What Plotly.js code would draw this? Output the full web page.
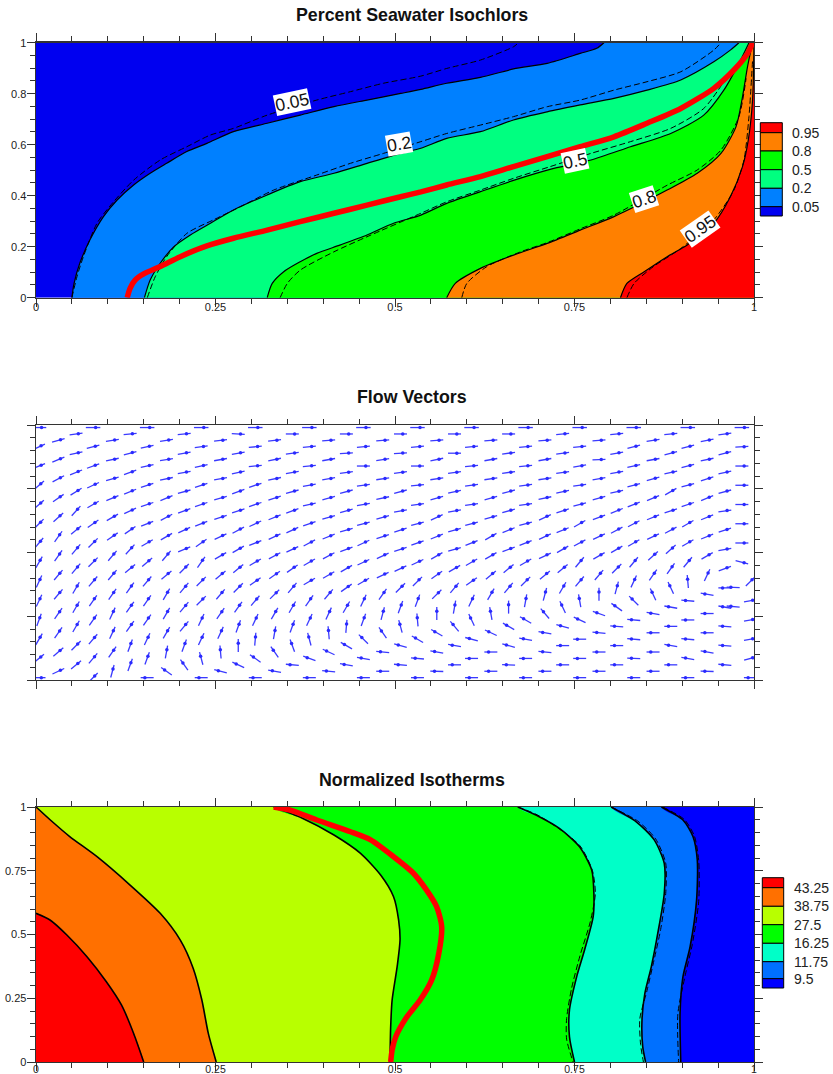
<!DOCTYPE html>
<html><head><meta charset="utf-8">
<script src="https://cdn.plot.ly/plotly-3.0.1.min.js"></script>
<style>html,body{margin:0;padding:0;background:#fff}</style></head>
<body><div id="chart"></div>
<script>
// ---------- Percent Seawater Isochlors (x,y) ----------
const iso05x=[.050,.053,.061,.075,.094,.113,.136,.159,.182,.210,.238,.275,.322,.368,.415,.461,.508,.536,.572,.619,.665,.712,.758,.781,.791];
const iso05y=[0,.056,.135,.226,.318,.383,.442,.488,.527,.573,.605,.651,.684,.716,.749,.775,.801,.817,.841,.864,.897,.919,.958,.978,1];
const iso05dx=[.050,.057,.066,.085,.108,.136,.173,.210,.243,.275,.322,.391,.438,.484,.536,.572,.619,.665,.672];
const iso05dy=[0,.082,.161,.292,.376,.461,.540,.592,.638,.664,.716,.775,.808,.841,.869,.899,.932,.984,1];
const iso20x=[.151,.159,.173,.192,.215,.243,.275,.322,.368,.415,.461,.508,.536,.572,.619,.665,.712,.758,.805,.851,.898,.944,.967,.979];
const iso20y=[0,.069,.135,.2,.246,.292,.344,.403,.455,.488,.527,.566,.586,.625,.651,.697,.729,.756,.782,.814,.854,.925,.971,1];
const iso20dx=[.155,.166,.182,.210,.247,.285,.331,.391,.438,.484,.536,.572,.619,.665,.712,.758,.805,.851,.898,.944,.954];
const iso20dy=[0,.082,.161,.252,.305,.357,.422,.481,.527,.566,.612,.644,.677,.710,.749,.775,.814,.847,.886,.971,1];
const iso50x=[.322,.329,.345,.368,.391,.424,.461,.498,.536,.572,.619,.665,.716,.773,.828,.884,.930,.958,.979,.993];
const iso50y=[0,.056,.102,.141,.174,.207,.246,.292,.324,.370,.416,.460,.503,.540,.592,.644,.716,.814,.919,1];
const iso50dx=[.340,.350,.368,.415,.461,.536,.572,.619,.665,.716,.773,.828,.884,.930,.958];
const iso50dy=[0,.056,.108,.180,.239,.331,.376,.422,.468,.514,.566,.612,.664,.742,.847];
const iso80x=[.572,.584,.619,.665,.712,.758,.805,.879,.921,.954,.975,.984,.991,.998];
const iso80y=[0,.056,.115,.167,.213,.265,.318,.422,.488,.566,.671,.788,.906,1];
const iso80dx=[.593,.600,.628,.675,.712,.758,.805,.879,.921,.954,.979,.989];
const iso80dy=[0,.056,.122,.180,.216,.270,.324,.441,.501,.579,.710,.860];
const iso95x=[.814,.823,.847,.879,.907,.944,.967,.984,.992,.998,1];
const iso95y=[0,.056,.102,.161,.207,.292,.396,.514,.618,.775,1];
const iso95dx=[.823,.833,.860,.898,.944,.972,.986,.993,.998];
const iso95dy=[0,.056,.122,.193,.305,.422,.540,.710,.930];
const redIsoX=[.127,.131,.138,.150,.173,.201,.238,.275,.322,.368,.415,.461,.508,.536,.572,.619,.665,.712,.758,.805,.851,.898,.944,.972,.991,.998];
const redIsoY=[0,.037,.069,.093,.122,.161,.203,.233,.265,.298,.331,.363,.396,.415,.442,.475,.514,.553,.592,.631,.684,.742,.821,.893,.958,1];
const isoLabels=["0.05","0.2","0.5","0.8","0.95"];
const isoLabelX=[.357,.505,.750,.847,.925];
const isoLabelY=[.769,.604,.536,.387,.270];
const isoLabelAngle=[-12,-10,-12,-18,-35];
const isoColors=["#0000f0","#0080ff","#00ff80","#00ff00","#ff8000","#ff0000"];
const isoLegend=["0.95","0.8","0.5","0.2","0.05"];

// ---------- Flow Vectors: direction (degrees) of every arrow, row by row from the top ----------
const vectorAngles=[
[0,0,0,0,0,0,0,0,0,0,0,0,0,0],
[8,5,5,-3,0,0,0,0,0,5,5,5,8],
[15,8,8,6,6,5,5,5,5,5,5,8,12],
[25,15,12,8,5,5,5,5,5,5,5,15,15,3],
[12,15,10,10,8,3,3,0,8,8,10,15,15],
[22,12,8,10,12,10,8,12,10,10,3,10,12],
[22,20,12,12,5,5,0,0,5,5,10,12,15,0],
[22,20,10,12,10,8,8,8,8,8,10,12,12],
[28,15,12,10,12,10,8,8,8,8,10,15,17],
[40,25,18,18,18,10,8,5,8,8,8,15,15,0],
[32,22,15,20,15,15,15,12,15,12,12,30,15],
[35,22,22,15,18,15,12,15,15,12,15,22,22],
[42,30,18,18,18,12,10,8,8,8,15,22,18,0],
[48,25,20,18,20,15,10,10,15,18,22,18,8],
[42,30,28,18,22,15,15,25,15,25,20,22,22],
[45,35,22,22,25,18,15,15,15,15,30,28,30,0],
[40,35,25,28,25,15,18,15,22,22,28,28,18],
[55,35,30,25,25,22,18,22,30,25,25,25,22],
[50,45,30,35,22,28,25,20,22,22,28,30,30,0],
[50,48,22,30,25,20,18,15,20,30,30,42,10],
[55,50,50,30,28,28,25,30,30,25,30,42,30],
[60,45,40,55,30,30,25,25,30,30,50,50,50,-15],
[50,40,45,40,35,30,25,30,40,40,45,55,20],
[50,50,40,40,35,30,25,35,40,40,50,55,65],
[65,50,50,45,35,30,30,45,35,45,50,65,95,45],
[60,55,50,45,50,35,45,50,50,60,75,115,180],
[50,55,60,50,45,50,55,45,60,75,90,115,170],
[65,55,55,45,50,55,65,70,65,80,100,135,175,10],
[60,55,50,55,60,60,70,80,90,115,145,170,170],
[55,65,60,55,60,65,75,90,100,130,160,170,180],
[70,55,55,65,65,65,70,95,115,150,155,175,180,10],
[60,55,50,70,70,85,105,130,150,165,175,180,175],
[55,65,60,65,80,95,125,150,155,170,175,180,180],
[60,50,65,65,85,105,135,150,165,170,180,175,175,10],
[45,70,70,90,110,150,165,170,165,180,180,170,175],
[40,55,80,95,125,155,175,170,180,175,180,180,170],
[40,50,70,105,145,160,170,175,180,180,180,178,170,15],
[40,70,125,155,175,170,175,180,178,180,180,180,175],
[25,75,145,165,170,175,180,178,180,180,180,180,178],
[0,45,180,180,180,180,180,180,180,180,180,180,180,180]
];
const extraVectorX=[.971,.971];
const extraVectorY=[.363,.288];
const extraVectorAngle=[178,175];

// ---------- Normalized Isotherms ----------
const thA_x=[0,.0195,.043,.071,.098,.119,.136,.150];
const thA_y=[.583,.557,.498,.413,.315,.224,.112,0];
const thB_x=[0,.02,.047,.085,.131,.173,.201,.219,.231,.240,.251];
const thB_y=[1,.949,.884,.805,.694,.583,.478,.367,.243,.112,0];
const thC_x=[.331,.371,.415,.452,.480,.498,.505,.507,.503,.496,.494,.493];
const thC_y=[1,.956,.890,.818,.733,.648,.557,.478,.374,.243,.139,0];
const thD_x=[.671,.701,.729,.757,.774,.777,.776,.764,.753,.743,.743,.750];
const thD_y=[1,.962,.916,.844,.753,.661,.570,.439,.334,.204,.099,0];
const thE_x=[.801,.836,.861,.875,.875,.866,.857,.848,.844,.845,.849];
const thE_y=[1,.942,.871,.779,.661,.505,.374,.269,.165,.060,0];
const thF_x=[.871,.901,.915,.921,.920,.911,.901,.897,.898];
const thF_y=[1,.949,.884,.792,.634,.452,.334,.191,0];
const thDd_x=[.671,.701,.757,.775,.779,.772,.758,.746,.739,.739,.748];
const thDd_y=[1,.965,.85,.75,.66,.55,.42,.29,.17,.09,0];
const thEd_x=[.801,.838,.863,.877,.877,.870,.860,.851,.841,.842,.846];
const thEd_y=[1,.945,.875,.78,.66,.52,.39,.28,.17,.07,0];
const thFd_x=[.873,.903,.917,.923,.923,.914,.905,.894,.895];
const thFd_y=[1,.951,.886,.79,.63,.46,.35,.19,0];
const redThX=[.331,.354,.391,.438,.466,.498,.525,.544,.558,.565,.561,.551,.535,.515,.501,.496,.494];
const redThY=[1,.988,.949,.903,.871,.805,.742,.674,.609,.531,.426,.321,.243,.171,.099,.047,0];
const thColors=["#0000ff","#0070ff","#00ffc8","#00ff00","#b8ff00","#ff7000","#ff0000"];
const thLegend=["43.25","38.75","27.5","16.25","11.75","9.5"];

// ---------- page geometry ----------
const W=833,H=1074,L=36,R=754;
const dom=(t,b)=>[1-b/H,1-t/H];
const py=p=>1-p/H;
const traces=[];
const curve={shape:'spline',smoothing:.7};
function fillRight(xs,ys,color){ // region right of a contour running bottom -> top; closed outside the plot, where it is clipped
  const n=xs.length-1;
  traces.push({type:'scatter',mode:'lines',x:[xs[0],...xs,xs[n],1.4,1.4,xs[0]],y:[-.2,...ys,1.2,1.2,-.2,-.2],fill:'toself',fillcolor:color,line:{width:0,...curve},hoverinfo:'skip',xaxis:'x',yaxis:'y'});
}
function fillLeft(xs,ys,color){ // region left of a contour running top -> bottom
  const n=xs.length-1,top=ys[0]<1?[-.4,ys[0]]:[xs[0],1.2];
  traces.push({type:'scatter',mode:'lines',x:[top[0],...xs,xs[n],-.4,-.4,top[0]],y:[top[1],...ys,-.2,-.2,top[1]<1?top[1]:1.2,top[1]],fill:'toself',fillcolor:color,line:{width:0,...curve},hoverinfo:'skip',xaxis:'x3',yaxis:'y3'});
}
function stroke(xs,ys,ax,w,dash,color){
  traces.push({type:'scatter',mode:'lines',x:xs,y:ys,line:{color:color||'#000',width:w,dash:dash||'solid',...curve},hoverinfo:'skip',xaxis:'x'+ax,yaxis:'y'+ax});
}
// top panel
fillRight(iso05x,iso05y,isoColors[1]);
fillRight(iso20x,iso20y,isoColors[2]);
fillRight(iso50x,iso50y,isoColors[3]);
fillRight(iso80x,iso80y,isoColors[4]);
fillRight(iso95x,iso95y,isoColors[5]);
[[iso05x,iso05y,iso05dx,iso05dy],[iso20x,iso20y,iso20dx,iso20dy],[iso50x,iso50y,iso50dx,iso50dy],[iso80x,iso80y,iso80dx,iso80dy],[iso95x,iso95y,iso95dx,iso95dy]].forEach(a=>{
  stroke(a[0],a[1],'',1.2); stroke(a[2],a[3],'',1,'6px,3px');
});
stroke(redIsoX,redIsoY,'',5.5,'solid','#ff0000');

// bottom panel
fillLeft(thF_x,thF_y,thColors[1]);
fillLeft(thE_x,thE_y,thColors[2]);
fillLeft(thD_x,thD_y,thColors[3]);
fillLeft(thC_x,thC_y,thColors[4]);
fillLeft(thB_x,thB_y,thColors[5]);
fillLeft(thA_x,thA_y,thColors[6]);
[[thA_x,thA_y],[thB_x,thB_y],[thC_x,thC_y],[thD_x,thD_y],[thE_x,thE_y],[thF_x,thF_y]].forEach(a=>stroke(a[0],a[1],'3',1.6));
[[thDd_x,thDd_y],[thEd_x,thEd_y],[thFd_x,thFd_y]].forEach(a=>stroke(a[0],a[1],'3',1,'6px,3px'));
stroke(redThX,redThY,'3',5.5,'solid','#ff0000');

// vector panel: arrows of fixed screen length, laid out on the staggered mesh
const arrowLen=13, topRowLen=14.5, pw=R-L, ph=255;
const phaseX=[.0042,.0558,.0311], stepX=.0753;
const vx=[],vy=[],hx=[],hy=[];
function arrow(cx,cy,deg,len){
  const c=Math.cos(deg*Math.PI/180),s=Math.sin(deg*Math.PI/180);
  const dx=c*len/2/pw,dy=s*len/2/ph;
  vx.push(cx-dx,cx+dx,null);vy.push(cy-dy,cy+dy,null);
  hx.push(cx+dx*.35);hy.push(cy+dy*.35);
}
vectorAngles.forEach((row,i)=>{
  const y=.99-i*.02515, ph3=phaseX[i%3];
  row.forEach((a,k)=>{
    let x=ph3+k*stepX;
    if(k===13&&i>=24) x=.995;
    arrow(x,y,a,i===0?topRowLen:arrowLen);
  });
});
extraVectorX.forEach((x,i)=>arrow(x,extraVectorY[i],extraVectorAngle[i],arrowLen));
traces.push({type:'scatter',mode:'lines',x:vx,y:vy,line:{color:'#3a3aff',width:1.3},hoverinfo:'skip',xaxis:'x2',yaxis:'y2'});
traces.push({type:'scatter',mode:'markers',x:hx,y:hy,marker:{color:'#2a2aff',size:3.5,symbol:'circle'},hoverinfo:'skip',xaxis:'x2',yaxis:'y2'});

// axes
const tickFont={family:'"Liberation Sans",Arial,sans-serif',size:11,color:'#222'};
function axis(dtick,domain,extra){
  return Object.assign({range:[0,1],domain:domain,dtick:dtick,tick0:0,ticks:'outside',ticklen:8,tickwidth:1,tickcolor:'#333',
    showline:true,linecolor:'#333',linewidth:1.4,mirror:'allticks',showgrid:false,zeroline:false,fixedrange:true,
    tickfont:tickFont,
    minor:{dtick:.05,tick0:0,ticks:'outside',ticklen:5,tickwidth:1,tickcolor:'#333',showgrid:false}},extra||{});
}
const xd=[L/W,R/W];
const layout={
  width:W,height:H,margin:{l:0,r:0,t:0,b:0},paper_bgcolor:'#fff',showlegend:false,
  xaxis:axis(.25,xd,{anchor:'y',ticklabelstandoff:-9}),
  yaxis:axis(.2,dom(42.7,297.7),{anchor:'x',ticklabelstandoff:-2}),
  xaxis2:axis(.25,xd,{anchor:'y2',showticklabels:false}),
  yaxis2:axis(.25,dom(425,680),{anchor:'x2',showticklabels:false}),
  xaxis3:axis(.25,xd,{anchor:'y3',ticklabelstandoff:-11,tickfont:Object.assign({},tickFont,{size:10.5})}),
  yaxis3:axis(.25,dom(807,1062),{anchor:'x3',ticklabelstandoff:-2}),
  shapes:[
    {type:'rect',xref:'x',yref:'y',x0:0,x1:1,y0:0,y1:1,fillcolor:isoColors[0],line:{width:0},layer:'below'},
    {type:'rect',xref:'x3',yref:'y3',x0:0,x1:1,y0:0,y1:1,fillcolor:thColors[0],line:{width:0},layer:'below'}
  ],
  annotations:[]
};
const titleFont={family:'"Liberation Sans",Arial,sans-serif',size:17.8,color:'#111'};
[["Percent Seawater Isochlors",15],["Flow Vectors",397],["Normalized Isotherms",780]].forEach(t=>{
  layout.annotations.push({text:'<b>'+t[0]+'</b>',xref:'paper',yref:'paper',x:412/W,y:py(t[1]),xanchor:'center',yanchor:'middle',showarrow:false,font:titleFont});
});
isoLabels.forEach((s,i)=>layout.annotations.push({text:s,xref:'x',yref:'y',x:isoLabelX[i],y:isoLabelY[i],textangle:isoLabelAngle[i],showarrow:false,bgcolor:'#fff',borderpad:0,font:{family:'"Liberation Sans",Arial,sans-serif',size:17.5,color:'#111'}}));

function legend(x0,x1,edges,colors,labels,labelX,labelYs){
  edges.slice(0,-1).forEach((e,i)=>layout.shapes.push({type:'rect',xref:'paper',yref:'paper',x0:x0/W,x1:x1/W,y0:py(edges[i+1]),y1:py(e),fillcolor:colors[i],line:{color:'#000',width:1}}));
  labels.forEach((s,i)=>layout.annotations.push({text:s,xref:'paper',yref:'paper',x:labelX/W,y:py(labelYs[i]),xanchor:'left',yanchor:'middle',showarrow:false,font:{family:'"Liberation Sans",Arial,sans-serif',size:14,color:'#222'}}));
}
legend(760.3,782.3,[122.7,132.7,151,169.7,188.3,206.7,216],[...isoColors].reverse(),isoLegend,790,[132.7,151,169.7,188.3,206.7]);
legend(762.3,783.7,[877.7,887.7,906.3,924.7,943.3,961.7,978.7,988],[...thColors].reverse(),thLegend,792,[887.7,906.3,924.7,943.3,961.7,979]);

Plotly.newPlot('chart',traces,layout,{displayModeBar:false,staticPlot:true});
</script></body></html>
